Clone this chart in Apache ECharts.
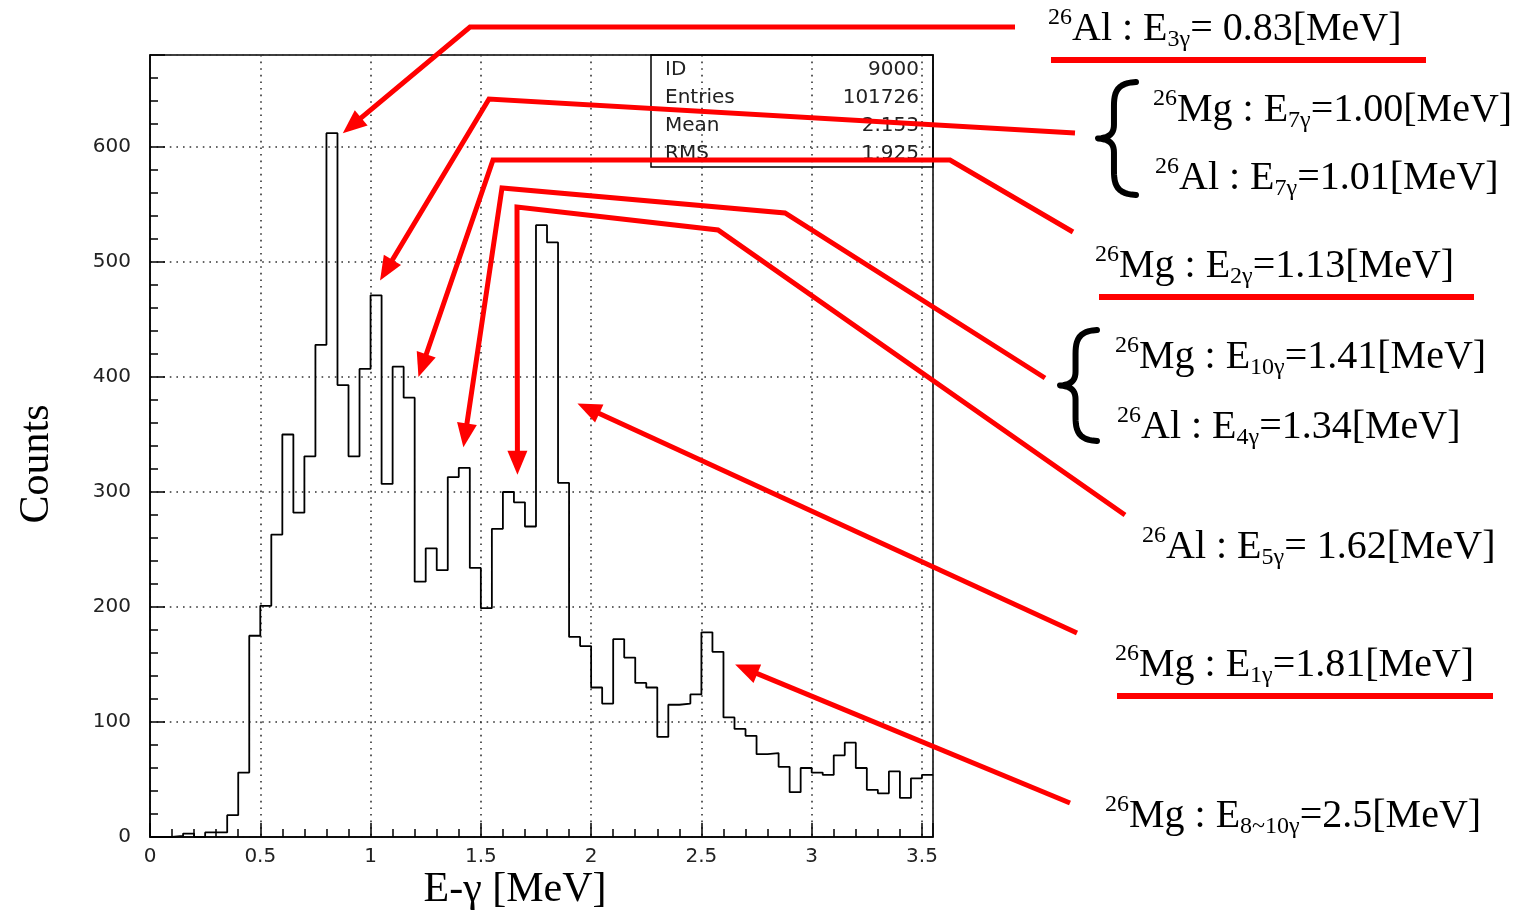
<!DOCTYPE html>
<html>
<head>
<meta charset="utf-8">
<script src="https://cdn.jsdelivr.net/npm/echarts@6/dist/echarts.min.js"></script>
<style>
html,body{margin:0;padding:0;background:#fff;}
#main{width:1524px;height:914px;}
</style>
</head>
<body>
<div id="main"></div>
<script>
// ---- Histogram definition (E-gamma spectrum, 0.05 MeV bins) ----
const binStart = 0;
const binWidth = 0.05;
const counts = [
  0, 0, 1, 3, 0, 4, 4, 19, 56, 175,
  201, 263, 350, 282, 331, 428, 612, 393, 331, 407,
  471, 307, 409, 382, 222, 251, 232, 313, 321, 234,
  199, 268, 300, 291, 270, 532, 517, 308, 174, 166,
  130, 116, 172, 156, 134, 130, 87, 115, 116, 124,
  178, 161, 104, 94, 88, 72, 73, 61, 39, 60,
  56, 54, 71, 82, 60, 41, 38, 57, 34, 51,
  54
];
const xTickLabels = ['0', '0.5', '1', '1.5', '2', '2.5', '3', '3.5'];
const yTickLabels = ['0', '100', '200', '300', '400', '500', '600'];

// stats box
const statNames = ['ID', 'Entries', 'Mean', 'RMS'];
const statValues = ['9000', '101726', '2.153', '1.925'];

// annotation arrow tips in data coordinates [E (MeV), counts]
const arrowTips = [
  [0.874, 612], [1.043, 484], [1.217, 400], [1.421, 339],
  [1.666, 315], [1.938, 377], [2.653, 150]
];

const chart = echarts.init(document.getElementById('main'));

const histData = counts.map((c, i) => [+(binStart + i * binWidth).toFixed(4), c]);
histData.push([+(binStart + counts.length * binWidth).toFixed(4), counts[counts.length - 1]]);
const xMax = +(binStart + counts.length * binWidth).toFixed(4);

const tickFont = { fontFamily: 'DejaVu Sans', fontSize: 20, color: '#222' };

const option = {
  animation: false,
  backgroundColor: '#fff',
  grid: {
    left: 150, top: 55, width: 783, height: 782,
    show: true, borderColor: '#000', borderWidth: 1.5, backgroundColor: 'transparent'
  },
  xAxis: {
    type: 'value', min: 0, max: xMax, interval: 0.5,
    axisLine: { show: true, lineStyle: { color: '#000', width: 1.5 } },
    axisTick: { show: true, inside: true, length: 14, lineStyle: { color: '#000', width: 1.5 } },
    minorTick: { show: true, splitNumber: 5, length: 8, lineStyle: { color: '#000', width: 1.5 } },
    splitLine: { show: true, lineStyle: { color: '#333', width: 1.6, type: [1.6, 5] } },
    axisLabel: Object.assign({
      margin: 10, showMaxLabel: false,
      formatter: v => {
        const idx = Math.round(v / 0.5);
        return Math.abs(v - idx * 0.5) < 1e-6 && xTickLabels[idx] !== undefined ? xTickLabels[idx] : '';
      }
    }, tickFont)
  },
  yAxis: {
    type: 'value', min: 0, max: 680, interval: 100,
    axisLine: { show: true, lineStyle: { color: '#000', width: 1.5 } },
    axisTick: { show: true, inside: true, length: 15, lineStyle: { color: '#000', width: 1.5 } },
    minorTick: { show: true, splitNumber: 5, length: 8, lineStyle: { color: '#000', width: 1.5 } },
    splitLine: { show: true, lineStyle: { color: '#333', width: 1.6, type: [1.6, 5] } },
    axisLabel: Object.assign({
      margin: 19, showMaxLabel: false,
      formatter: v => {
        const idx = Math.round(v / 100);
        return Math.abs(v - idx * 100) < 1e-6 && yTickLabels[idx] !== undefined ? yTickLabels[idx] : '';
      }
    }, tickFont)
  },
  series: [{
    type: 'line',
    step: 'end',
    data: histData,
    showSymbol: false,
    symbol: 'none',
    lineStyle: { color: '#000', width: 1.8 },
    z: 5
  }]
};
chart.setOption(option);

// ---- annotations ----
const RED = '#ff0000';
const annoPaths = [
  { pts: [[1015, 27], [470, 27]], tip: 0 },
  { pts: [[1075, 133], [489, 99]], tip: 1 },
  { pts: [[1073, 232], [950, 160], [493, 160]], tip: 2 },
  { pts: [[1045, 378], [785, 213], [502, 188]], tip: 3 },
  { pts: [[1125, 515], [718, 230], [517, 207]], tip: 4 },
  { pts: [[1077, 633]], tip: 5 },
  { pts: [[1070, 803]], tip: 6 }
];

const labelItems = [
  { t: '{sup|26}{m|Al : E}{sub|3γ}{m|= 0.83[MeV]}', x: 1048, y: 29, ul: [1051, 1426, 60] },
  { t: '{sup|26}{m|Mg : E}{sub|7γ}{m|=1.00[MeV]}', x: 1153, y: 110 },
  { t: '{sup|26}{m|Al : E}{sub|7γ}{m|=1.01[MeV]}', x: 1155, y: 178 },
  { t: '{sup|26}{m|Mg : E}{sub|2γ}{m|=1.13[MeV]}', x: 1095, y: 266, ul: [1099, 1474, 297] },
  { t: '{sup|26}{m|Mg : E}{sub|10γ}{m|=1.41[MeV]}', x: 1115, y: 357 },
  { t: '{sup|26}{m|Al : E}{sub|4γ}{m|=1.34[MeV]}', x: 1117, y: 427 },
  { t: '{sup|26}{m|Al : E}{sub|5γ}{m|= 1.62[MeV]}', x: 1142, y: 547 },
  { t: '{sup|26}{m|Mg : E}{sub|1γ}{m|=1.81[MeV]}', x: 1115, y: 665, ul: [1117, 1493, 696] },
  { t: '{sup|26}{m|Mg : E}{sub|8~10γ}{m|=2.5[MeV]}', x: 1105, y: 816 }
];

const braces = [[1098, 1136, 80, 197], [1060, 1097, 328, 443]];

const richStyles = {
  m: { fontFamily: 'Liberation Serif', fontSize: 40, lineHeight: 46, color: '#000' },
  sup: { fontFamily: 'Liberation Serif', fontSize: 24, lineHeight: 22, verticalAlign: 'top', color: '#000' },
  sub: { fontFamily: 'Liberation Serif', fontSize: 24, lineHeight: 18, verticalAlign: 'bottom', color: '#000' }
};

function cubic(p0, p1, p2, p3, n) {
  const out = [];
  for (let k = 1; k <= n; k++) {
    const t = k / n, s = 1 - t;
    out.push([
      s * s * s * p0[0] + 3 * s * s * t * p1[0] + 3 * s * t * t * p2[0] + t * t * t * p3[0],
      s * s * s * p0[1] + 3 * s * s * t * p1[1] + 3 * s * t * t * p2[1] + t * t * t * p3[1]
    ]);
  }
  return out;
}
function bracePoints(xTip, xR, yT, yB) {
  const xm = xTip + (xR - xTip) * 0.42;
  const yc = (yT + yB) / 2;
  let pts = [[xR, yT + 2]];
  pts = pts.concat(cubic([xR, yT + 2], [xm + 3, yT + 3], [xm, yT + 12], [xm, yT + 26], 12));
  pts.push([xm, yc - 14]);
  pts = pts.concat(cubic([xm, yc - 14], [xm, yc - 5], [xm - 4, yc - 1], [xTip, yc], 10));
  pts = pts.concat(cubic([xTip, yc], [xm - 4, yc + 1], [xm, yc + 5], [xm, yc + 14], 10));
  pts.push([xm, yB - 26]);
  pts = pts.concat(cubic([xm, yB - 26], [xm, yB - 12], [xm + 3, yB - 3], [xR, yB - 2], 12));
  return pts;
}

const graphics = [];

// axis titles
graphics.push({
  type: 'text', z: 50,
  style: { text: 'E-γ [MeV]', x: 515, y: 890, textAlign: 'center', textVerticalAlign: 'middle', verticalAlign: 'middle',
    font: '42px "Liberation Serif"', fill: '#000' }
});
graphics.push({
  type: 'text', z: 50, x: 37, y: 464, rotation: Math.PI / 2,
  style: { text: 'Counts', x: 0, y: 0, textAlign: 'center', textVerticalAlign: 'middle', verticalAlign: 'middle',
    font: '42px "Liberation Serif"', fill: '#000' }
});

// stats box
graphics.push({
  type: 'rect', z: 40,
  shape: { x: 651, y: 55, width: 282, height: 112 },
  style: { fill: 'none', stroke: '#000', lineWidth: 1.5 }
});
statNames.forEach((n, i) => {
  const yy = 70 + i * 28;
  graphics.push({ type: 'text', z: 41, style: { text: n, x: 665, y: yy, textAlign: 'left', textVerticalAlign: 'middle', verticalAlign: 'middle', font: '20px "DejaVu Sans"', fill: '#222' } });
  graphics.push({ type: 'text', z: 41, style: { text: statValues[i], x: 919, y: yy, textAlign: 'right', textVerticalAlign: 'middle', verticalAlign: 'middle', font: '20px "DejaVu Sans"', fill: '#222' } });
});

// arrows
const AL = 24, AW = 10;
annoPaths.forEach(a => {
  const tipD = arrowTips[a.tip];
  const tip = chart.convertToPixel({ gridIndex: 0 }, tipD);
  const prev = a.pts[a.pts.length - 1];
  const dx = tip[0] - prev[0], dy = tip[1] - prev[1];
  const len = Math.sqrt(dx * dx + dy * dy);
  const ux = dx / len, uy = dy / len;
  const nx = -uy, ny = ux;
  const end = [tip[0] - ux * AL * 0.75, tip[1] - uy * AL * 0.75];
  graphics.push({
    type: 'polyline', z: 60,
    shape: { points: a.pts.concat([end]) },
    style: { stroke: RED, lineWidth: 5, fill: null, lineJoin: 'miter' }
  });
  const bx = tip[0] - ux * AL, by = tip[1] - uy * AL;
  graphics.push({
    type: 'polygon', z: 60,
    shape: { points: [tip, [bx + nx * AW, by + ny * AW], [bx - nx * AW, by - ny * AW]] },
    style: { fill: RED, stroke: null }
  });
});

// labels
labelItems.forEach(l => {
  graphics.push({
    type: 'text', z: 55,
    style: { text: l.t, x: l.x, y: l.y, textAlign: 'left', textVerticalAlign: 'middle', verticalAlign: 'middle', rich: richStyles, fill: '#000' }
  });
  if (l.ul) {
    graphics.push({
      type: 'line', z: 55,
      shape: { x1: l.ul[0], y1: l.ul[2], x2: l.ul[1], y2: l.ul[2] },
      style: { stroke: RED, lineWidth: 6 }
    });
  }
});

braces.forEach(b => {
  graphics.push({
    type: 'polyline', z: 55,
    shape: { points: bracePoints(b[0], b[1], b[2], b[3]) },
    style: { fill: null, stroke: '#000', lineWidth: 6, lineCap: 'round', lineJoin: 'round' }
  });
});

chart.setOption({ graphic: graphics });
</script>
</body>
</html>
